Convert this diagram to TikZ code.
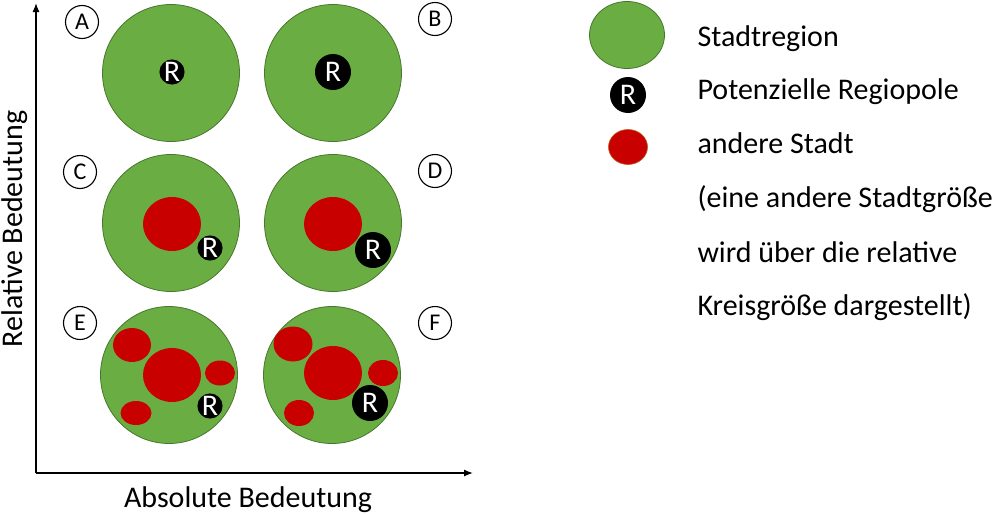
\documentclass[tikz,border=0pt]{standalone}
\usepackage{fontspec}
\setmainfont{Carlito}
\usetikzlibrary{shapes.geometric,arrows.meta}
\definecolor{gruen}{RGB}{106,174,67}
\definecolor{gruenrand}{RGB}{72,118,45}
\definecolor{rot}{RGB}{200,0,0}
\definecolor{rotrand}{RGB}{190,90,20}
\begin{document}
\begin{tikzpicture}[x=1pt,y=-1pt,
    region/.style={circle,fill=gruen,draw=gruenrand,line width=0.8pt,minimum size=137pt,inner sep=0pt},
    stadt/.style={ellipse,fill=rot,inner sep=0pt},
    regiopol/.style={circle,fill=black,text=white,inner sep=0pt,minimum size=#1,font=\fontsize{30}{30}\selectfont},
    feld/.style={circle,draw,line width=1.1pt,minimum size=33pt,inner sep=0pt,font=\fontsize{24}{24}\selectfont},
    legende/.style={anchor=base west,font=\fontsize{30}{30}\selectfont}]
      \fill [white] (0, 0) rectangle (992, 514);
      \useasboundingbox (0, 0) rectangle (992, 514);

      % Achsen
      \coordinate (ursprung) at (36, 473);
      \coordinate (yende) at (36, 3);
      \coordinate (xende) at (473, 473);
      \draw [line width=1.3pt, -{Latex[length=9pt, width=7pt]}] (ursprung) -- (yende);
      \draw [line width=1.3pt, -{Latex[length=9pt, width=7pt]}] (ursprung) -- (xende);
      \node [rotate=90, anchor=base, font=\fontsize{30}{30}\selectfont] (yachse) at (22, 229) {Relative Bedeutung};
      \node [anchor=base, font=\fontsize{30}{30}\selectfont] (xachse) at (248, 507) {Absolute Bedeutung};

      % A und B
      \node [region] (regionA) at (171, 73) {};
      \node [regiopol=22] (rA) at (172, 72) {R};
      \node [region] (regionB) at (333, 73) {};
      \node [regiopol=36] (rB) at (333, 72) {R};

      % C und D
      \node [region] (regionC) at (171, 223) {};
      \node [stadt, minimum width=58, minimum height=54] (sC) at (172, 224) {};
      \node [regiopol=22] (rC) at (210, 248) {R};
      \node [region] (regionD) at (333, 223) {};
      \node [stadt, minimum width=58, minimum height=54] (sD) at (333, 224) {};
      \node [regiopol=36] (rD) at (373, 250) {R};

      % E und F
      \node [region] (regionE) at (169, 375) {};
      \node [stadt, minimum width=58, minimum height=54] (sE1) at (172, 375) {};
      \node [stadt, minimum width=38, minimum height=34] (sE2) at (132, 345) {};
      \node [stadt, minimum width=30, minimum height=25] (sE3) at (220, 373) {};
      \node [stadt, minimum width=31, minimum height=24] (sE4) at (136, 413) {};
      \node [regiopol=22] (rE) at (210, 406) {R};
      \node [region] (regionF) at (332, 375) {};
      \node [stadt, minimum width=58, minimum height=54] (sF1) at (333, 373) {};
      \node [stadt, minimum width=39, minimum height=35] (sF2) at (293, 344) {};
      \node [stadt, minimum width=30, minimum height=26] (sF3) at (383, 373) {};
      \node [stadt, minimum width=30, minimum height=26] (sF4) at (299, 413) {};
      \node [regiopol=36] (rF) at (370, 403) {R};

      % Felder
      \node [feld] (fA) at (82, 22) {A};
      \node [feld] (fB) at (435, 19) {B};
      \node [feld] (fC) at (80, 172) {C};
      \node [feld] (fD) at (435, 171) {D};
      \node [feld] (fE) at (80, 323) {E};
      \node [feld] (fF) at (435, 323) {F};

      % Legende
      \node [ellipse, fill=gruen, draw=gruenrand, line width=0.8pt, minimum width=75, minimum height=67, inner sep=0pt] (lregion) at (627, 35) {};
      \node [regiopol=36] (lregiopol) at (628, 95) {R};
      \node [stadt, draw=rotrand, line width=0.6pt, minimum width=39, minimum height=35] (lstadt) at (628, 147) {};
      \node [legende] (t1) at (694, 46) {Stadtregion};
      \node [legende] (t2) at (694, 99) {Potenzielle Regiopole};
      \node [legende] (t3) at (694, 153) {andere Stadt};
      \node [legende] (t4) at (694, 207) {(eine andere Stadtgröße};
      \node [legende] (t5) at (694, 262) {wird über die relative};
      \node [legende] (t6) at (694, 315) {Kreisgröße dargestellt)};
    \end{tikzpicture}
\end{document}
